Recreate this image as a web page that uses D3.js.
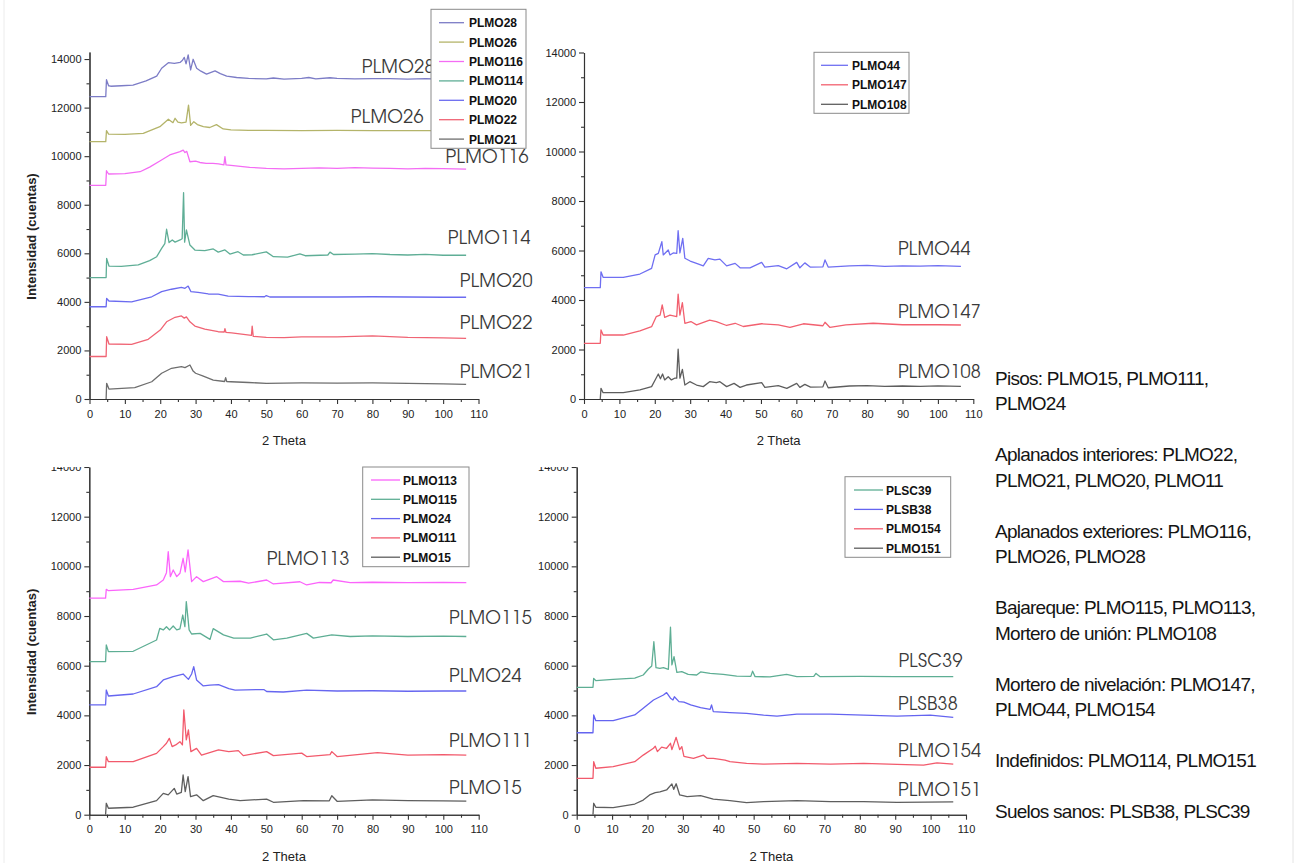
<!DOCTYPE html>
<html lang="es">
<head>
<meta charset="UTF-8">
<title>Difractogramas</title>
<script src="https://d3js.org/d3.v7.min.js"></script>
<style>
  body { margin: 0; background: #fff; }
  svg { display: block; }
  .tick text { font-family: "Liberation Sans", Arial, sans-serif; font-size: 11px; fill: #222; }
  .axis path, .axis line { stroke: #333; stroke-width: 1.1; }
  .ttl { font-family: "Liberation Sans", Arial, sans-serif; font-size: 13px; fill: #222; }
  .leg { font-family: "Liberation Sans", Arial, sans-serif; font-size: 12px; font-weight: bold; fill: #111; }
  .tag { font-family: "Century Gothic", "URW Gothic", "TeX Gyre Adventor", Lato, sans-serif; font-size: 18px; font-weight: 300; fill: #3a3a3a; letter-spacing: 0.3px; }
  .side { font-family: "Liberation Sans", Arial, sans-serif; font-size: 19px; fill: #141414; letter-spacing: -0.75px; }
</style>
</head>
<body>
<svg id="fig" width="1298" height="863"></svg>
<script>
// ticks
const xTicks = d3.range(0, 111, 10);
const yTicks = d3.range(0, 14001, 2000);

// [2 theta, counts] read per pattern
const plmo28 = [[0,12450],[4.6,12450],[4.8,13150],[5.4,12900],[6,12880],[9,12900],[12.3,12930],[16,13100],[19,13300],[20.4,13620],[22.3,13850],[24,13820],[25.6,13860],[26.3,13950],[26.8,14070],[27.3,13800],[27.9,14170],[28.6,13550],[29.3,13990],[30.3,13620],[31.5,13500],[33.1,13380],[35.5,13510],[37,13400],[38.8,13300],[41.6,13240],[45,13200],[50,13180],[52,13220],[55,13170],[60,13200],[62,13240],[64,13180],[68,13230],[70,13200],[75,13180],[80,13190],[85,13190],[90,13170],[95,13190],[100,13170],[106.5,13170]];
const plmo26 = [[0,10600],[4.6,10600],[4.8,11050],[5.4,10910],[10,10900],[15.2,10940],[19.9,11215],[22.3,11520],[23.6,11380],[24.2,11560],[25,11400],[26,11370],[27.3,11400],[28,12105],[28.6,11270],[29.5,11420],[30.5,11300],[32.2,11215],[34,11180],[35.9,11300],[37.8,11120],[40,11080],[45,11060],[50,11060],[60,11050],[70,11060],[80,11050],[90,11050],[100,11050],[106.5,11050]];
const plmo116 = [[0,8800],[4.6,8800],[4.8,9400],[5.4,9265],[10,9280],[14.3,9360],[17,9550],[19.9,9800],[22.7,10050],[25.6,10185],[26.5,10250],[27,10150],[27.5,10200],[28.4,9770],[30,9800],[31.2,9740],[33,9700],[34.9,9700],[36.5,9680],[38,9640],[38.3,9980],[38.6,9640],[40,9620],[45.3,9540],[50,9500],[55,9480],[60,9500],[65,9520],[70,9500],[75,9530],[80,9510],[85,9500],[90,9480],[95,9500],[100,9490],[106.5,9470]];
const plmo114 = [[0,5000],[4.7,5000],[4.85,5790],[5.5,5475],[9,5460],[13.8,5520],[17,5700],[19,5860],[20.4,6200],[21.3,6400],[21.8,6990],[22.5,6440],[23.4,6550],[24.2,6460],[25.6,6550],[26.2,6600],[26.6,8495],[26.9,6460],[27.4,6960],[28.4,6340],[29.8,6135],[32.6,6110],[35,6180],[36.4,6050],[38.3,6140],[39.7,5970],[42,6065],[43.5,5930],[46,5940],[50,6060],[52,5860],[56,5840],[59.5,5980],[61,5900],[67.4,5930],[68,6050],[69,5950],[75,5970],[80,5990],[85,5950],[90,5930],[95,5960],[100,5920],[106.5,5920]];
const plmo20 = [[0,3800],[4.7,3800],[4.85,4145],[5.5,4035],[11.9,4000],[17.6,4210],[20.4,4420],[23.2,4520],[26,4600],[27,4560],[27.9,4650],[28.7,4420],[30.7,4390],[33.6,4325],[36.4,4320],[39.2,4240],[45,4220],[49.5,4210],[50,4260],[51,4200],[60,4200],[70,4200],[80,4210],[90,4200],[100,4190],[106.5,4190]];
const plmo22 = [[0,1750],[4.7,1750],[4.85,2565],[5.5,2265],[11.9,2250],[16.6,2460],[20,2840],[21.8,3180],[24.2,3365],[26,3420],[26.8,3330],[27.4,3380],[28.4,3180],[29.8,3005],[32.6,2880],[36.4,2770],[38.1,2760],[38.3,2900],[38.6,2740],[40.2,2720],[45.8,2620],[46,3000],[46.3,2580],[50,2540],[55,2530],[60,2560],[70,2560],[80,2600],[90,2540],[100,2520],[106.5,2500]];
const plmo21 = [[4.7,0],[4.85,645],[5.5,410],[12.8,465],[17.6,710],[20.4,1060],[23.2,1265],[26,1330],[27,1290],[28.4,1400],[29.3,1150],[30,1060],[32,950],[35,780],[38.2,720],[38.5,880],[38.8,720],[40,710],[45,680],[50,645],[60,660],[70,650],[80,660],[90,640],[100,620],[106.5,600]];

const plmo44 = [[0,4500],[4.6,4500],[4.8,5140],[5.4,4915],[11.1,4915],[15.8,5050],[19.1,5280],[20.1,5820],[21,5885],[22,6355],[22.4,5820],[23.8,6020],[24.3,5820],[25.2,5900],[26.2,5880],[26.6,6800],[27.1,5900],[27.9,6490],[28.5,5685],[30,5575],[31.8,5480],[33.7,5380],[35.1,5685],[37,5620],[38.4,5650],[40.3,5380],[42.7,5480],[44.1,5300],[46.9,5300],[50.2,5520],[51.1,5330],[54.9,5390],[57.3,5260],[60.1,5520],[61,5300],[62.4,5500],[63.9,5330],[67.5,5340],[68.1,5620],[69,5330],[75,5380],[80,5400],[85,5360],[90,5380],[95,5370],[100,5390],[106.5,5360]];
const plmo147 = [[0,2250],[4.6,2250],[4.8,2790],[5.4,2585],[11.1,2585],[15.8,2750],[19.1,2920],[20.4,3325],[21.5,3390],[22.1,3800],[22.8,3300],[24.3,3390],[26.2,3330],[26.6,4240],[27.1,3390],[27.8,3890],[28.5,3060],[30.2,3130],[31.8,2995],[35.5,3190],[37.4,3130],[40.3,2970],[42.7,3060],[45,2930],[50.2,3040],[54.9,2995],[58.2,2890],[62,3040],[67.5,2960],[68.1,3100],[69.5,2890],[74,2995],[81.7,3060],[90,3000],[100,3000],[106.5,2990]];
const plmo108 = [[4.6,0],[4.8,430],[5.4,255],[11.1,255],[15.8,365],[19.1,500],[20.1,770],[21,1010],[21.6,820],[22.2,1010],[22.8,770],[23.8,900],[24.7,770],[25.6,840],[26.2,840],[26.6,2010],[27.1,840],[27.8,1200],[28.5,565],[29.9,700],[31.8,565],[33.7,500],[35.5,700],[37.4,660],[38.4,700],[40.3,500],[42.4,630],[44.1,470],[45.9,565],[50.2,660],[51.1,470],[54.9,540],[57.3,430],[60.1,630],[61,470],[62.4,590],[64,480],[67.5,490],[68.1,727],[69,454],[75,525],[80,540],[85,510],[90,525],[95,510],[100,530],[106.5,510]];

const plmo113 = [[0,8720],[4.6,8720],[4.8,9075],[5.4,9020],[12.4,9075],[19,9250],[20.9,9450],[21.8,9745],[22.3,10590],[22.9,9585],[23.7,9855],[24.7,9585],[25.6,9720],[26.5,10325],[27.1,9780],[27.9,10660],[28.9,9385],[30.3,9585],[32.2,9385],[36,9585],[37.9,9385],[42.6,9400],[45,9320],[50.1,9450],[52,9290],[59.5,9380],[61.4,9250],[65,9350],[68.3,9340],[68.9,9450],[73.7,9345],[80,9360],[90,9345],[100,9350],[106.5,9345]];
const plmo115 = [[0,6160],[4.6,6160],[4.8,6835],[5.4,6565],[12.4,6580],[19,7035],[19.9,7505],[20.9,7440],[21.8,7570],[22.7,7440],[23.7,7600],[24.7,7440],[25.6,7480],[26.4,8040],[27,7570],[27.4,8580],[28.2,7440],[28.9,7275],[31.3,7300],[34.1,7060],[35,7490],[37.9,7240],[40.8,7110],[45.5,7110],[50.1,7275],[52,7040],[55.8,7110],[61.4,7300],[63.3,7110],[68.5,7240],[73.7,7175],[80,7200],[90,7175],[100,7190],[106.5,7175]];
const plmo24 = [[0,4420],[4.6,4420],[4.8,5020],[5.4,4780],[12.4,4860],[19,5155],[20.9,5425],[23.7,5560],[26.5,5665],[28,5450],[28.9,5665],[29.5,5960],[30.3,5425],[32.2,5185],[34.1,5220],[36.5,5235],[39.4,5075],[41.2,5020],[49.3,5040],[50.1,4960],[54.8,4940],[61.4,5020],[70,4980],[80,4990],[90,4970],[100,4980],[106.5,4980]];
const plmo111 = [[0,1910],[4.6,1910],[4.8,2335],[5.4,2135],[12.4,2135],[19,2470],[20.9,2740],[21.8,2875],[22.6,3075],[23.4,2740],[24.4,2810],[25.6,2940],[26.3,2810],[26.7,4215],[27.4,3010],[28,3410],[28.7,2540],[30.3,2670],[31.7,2400],[36.5,2610],[39.4,2540],[42.1,2580],[43.5,2380],[50.1,2540],[52,2380],[60,2480],[61.4,2340],[68,2420],[68.5,2540],[70,2340],[81.4,2500],[90,2400],[100,2420],[106.5,2400]];
const plmo15 = [[4.6,0],[4.8,460],[5.4,260],[12.4,300],[19,565],[20.9,860],[22.3,800],[24,1060],[24.7,830],[26,900],[26.5,1600],[27.1,930],[27.9,1530],[28.6,725],[30.3,800],[32.2,565],[35,765],[39.4,630],[42.6,565],[50.1,630],[52,500],[60.5,565],[67.8,560],[68.5,765],[70,540],[80,600],[90,570],[100,560],[106.5,550]];

const plsc39 = [[0,5130],[4.6,5130],[4.8,5490],[5.4,5400],[10.3,5450],[16.4,5500],[18.8,5625],[20.2,5855],[21.2,5990],[21.8,6965],[22.4,5920],[23.5,5895],[24.5,5920],[25.9,5855],[26.5,7550],[26.9,6030],[27.5,6365],[28.3,5730],[29.7,5760],[31.5,5650],[33.9,5625],[35,5750],[37.7,5690],[41.4,5650],[45.2,5580],[49.2,5570],[49.7,5780],[50.4,5560],[54.6,5550],[59.3,5650],[62.2,5560],[67,5570],[67.6,5690],[68.7,5560],[80,5570],[90,5560],[100,5560],[106.4,5560]];
const plsb38 = [[0,3300],[4.6,3300],[4.8,4015],[5.4,3785],[10.3,3785],[16.4,4015],[18.8,4285],[21.7,4620],[24.5,4820],[25.4,4915],[26.5,4690],[27.2,4620],[27.6,4750],[28.9,4555],[30.3,4530],[32.2,4420],[35,4310],[37.7,4240],[38.1,4420],[38.6,4150],[43.3,4110],[48,4080],[52.8,4010],[56.6,3970],[62.2,4050],[71.7,4050],[81.1,4010],[90.5,3970],[99.9,4010],[106.4,3920]];
const plmo154 = [[0,1465],[4.6,1465],[4.8,2135],[5.4,1870],[10.3,1935],[16.4,2135],[18.8,2400],[21.7,2675],[22.2,2760],[22.8,2540],[24,2720],[25.4,2675],[26.5,2875],[26.9,2620],[28.1,3115],[29.1,2620],[29.7,2740],[30.3,2350],[33,2270],[35.8,2400],[36.8,2270],[38.6,2270],[41.9,2200],[43.3,2135],[48,2070],[52.8,2040],[62.2,2070],[71.7,2040],[81.1,2070],[90.5,2030],[98,2000],[101.8,2090],[106.4,2040]];
const plmo151 = [[4.6,0],[4.8,460],[5.4,300],[10.3,285],[16.4,430],[18.8,590],[20.6,795],[22.2,885],[23.5,920],[25.4,995],[26.9,1240],[27.4,1020],[28.1,1245],[29.1,795],[31.2,730],[35,770],[38.6,625],[43.3,570],[48,490],[52.8,530],[62.2,570],[71.7,530],[81.1,530],[90.5,500],[106.4,520]];

// sample groups, in legend order
const topLeftNames = ["PLMO28", "PLMO26", "PLMO116", "PLMO114", "PLMO20", "PLMO22", "PLMO21"];
const topRightNames = ["PLMO44", "PLMO147", "PLMO108"];
const bottomLeftNames = ["PLMO113", "PLMO115", "PLMO24", "PLMO111", "PLMO15"];
const bottomRightNames = ["PLSC39", "PLSB38", "PLMO154", "PLMO151"];

const notes = [
  "Pisos: PLMO15, PLMO111,", "PLMO24", "",
  "Aplanados interiores: PLMO22,", "PLMO21, PLMO20, PLMO11", "",
  "Aplanados exteriores: PLMO116,", "PLMO26, PLMO28", "",
  "Bajareque: PLMO115, PLMO113,", "Mortero de unión: PLMO108", "",
  "Mortero de nivelación: PLMO147,", "PLMO44, PLMO154", "",
  "Indefinidos: PLMO114, PLMO151", "",
  "Suelos sanos: PLSB38, PLSC39"
];

const patterns = {
  PLMO28: plmo28, PLMO26: plmo26, PLMO116: plmo116, PLMO114: plmo114,
  PLMO20: plmo20, PLMO22: plmo22, PLMO21: plmo21,
  PLMO44: plmo44, PLMO147: plmo147, PLMO108: plmo108,
  PLMO113: plmo113, PLMO115: plmo115, PLMO24: plmo24, PLMO111: plmo111, PLMO15: plmo15,
  PLSC39: plsc39, PLSB38: plsb38, PLMO154: plmo154, PLMO151: plmo151
};

// ---- drawing ----
const colors = {
  PLMO28: "#7c7cc6", PLMO26: "#b4b46a", PLMO116: "#f46cf4", PLMO114: "#5fae96",
  PLMO20: "#6b6bf0", PLMO22: "#f06474", PLMO21: "#6e6e6e",
  PLMO44: "#6f6ff2", PLMO147: "#f2606f", PLMO108: "#5e5e5e",
  PLMO113: "#fb64fb", PLMO115: "#5eae94", PLMO24: "#6666f0", PLMO111: "#f25a6c", PLMO15: "#5e5e5e",
  PLSC39: "#5eae94", PLSB38: "#6464f0", PLMO154: "#f25a6c", PLMO151: "#5e5e5e"
};

// where each curve name is written, in data units (2 theta, counts)
const tagAt = {
  PLMO28: [77, 13445], PLMO26: [73.9, 11385], PLMO116: [100.7, 9700], PLMO114: [101.3, 6400],
  PLMO20: [104.7, 4630], PLMO22: [104.7, 2900], PLMO21: [104.7, 885],
  PLMO44: [88.7, 5800], PLMO147: [88.7, 3290], PLMO108: [88.7, 840],
  PLMO113: [50.1, 10065], PLMO115: [101.6, 7660], PLMO24: [101.6, 5325], PLMO111: [101.6, 2745], PLMO15: [101.6, 815],
  PLSC39: [90.9, 5940], PLSB38: [90.8, 4225], PLMO154: [90.8, 2315], PLMO151: [90.8, 760]
};

const panels = [
  { names: topLeftNames, x0: 89.5, x1: 478.5, yb: 399, yt: 52, yTop: 14290, yTitle: true,
    legend: { x: 431, y: 9.3, w: 95, h: 139, row0: 22.7, step: 19.4, l0: 439, l1: 464, tx: 469 } },
  { names: topRightNames, x0: 584, x1: 973.3, yb: 399, yt: 52.5, yTop: 14000, yTitle: false,
    legend: { x: 814, y: 52.3, w: 95, h: 61, row0: 65.3, step: 19.5, l0: 821, l1: 848, tx: 852 } },
  { names: bottomLeftNames, x0: 89.3, x1: 478.7, yb: 814.7, yt: 467, yTop: 14000, yTitle: true, clipTop: 467,
    legend: { x: 362.7, y: 467, w: 106.3, h: 99.7, row0: 480, step: 19.3, l0: 371, l1: 400, tx: 403 } },
  { names: bottomRightNames, x0: 576.7, x1: 966, yb: 814.7, yt: 467, yTop: 14000, yTitle: false, clipTop: 467,
    legend: { x: 845, y: 476.7, w: 105.7, h: 80.6, row0: 490, step: 19.4, l0: 854, l1: 883, tx: 886 } }
];

const svg = d3.select("#fig");

// faint frame edges of the page
svg.append("line").attr("x1", 4).attr("x2", 4).attr("y1", 0).attr("y2", 863).attr("stroke", "#ececec");
svg.append("line").attr("x1", 1293).attr("x2", 1293).attr("y1", 0).attr("y2", 863).attr("stroke", "#e4e4e4");

panels.forEach((p, k) => {
  const x = d3.scaleLinear().domain([0, 110]).range([p.x0, p.x1]);
  const y = d3.scaleLinear().domain([0, p.yTop]).range([p.yb, p.yt]);

  let g = svg.append("g");
  if (p.clipTop) {
    svg.append("clipPath").attr("id", "cut" + k)
      .append("rect").attr("x", 0).attr("y", p.clipTop).attr("width", 1000).attr("height", 863 - p.clipTop);
    g.attr("clip-path", `url(#cut${k})`);
  }

  // minor ticks first, then labelled ones
  g.append("g").attr("class", "axis").attr("transform", `translate(0,${p.yb})`)
    .call(d3.axisBottom(x).tickValues(d3.range(5, 110, 10)).tickSize(3).tickFormat("").tickSizeOuter(0));
  g.append("g").attr("class", "axis").attr("transform", `translate(0,${p.yb})`)
    .call(d3.axisBottom(x).tickValues(xTicks).tickSize(5).tickPadding(6).tickSizeOuter(0));
  g.append("g").attr("class", "axis").attr("transform", `translate(${p.x0},0)`)
    .call(d3.axisLeft(y).tickValues(d3.range(1000, 14000, 2000)).tickSize(3).tickFormat("").tickSizeOuter(0));
  g.append("g").attr("class", "axis").attr("transform", `translate(${p.x0},0)`)
    .call(d3.axisLeft(y).tickValues(yTicks).tickFormat(d3.format("d")).tickSize(5).tickPadding(3).tickSizeOuter(0));

  const line = d3.line().x(d => x(d[0])).y(d => y(d[1]));
  p.names.slice().reverse().forEach(n => {
    g.append("path").datum(patterns[n])
      .attr("d", line).attr("fill", "none")
      .attr("stroke", colors[n]).attr("stroke-width", 1.3).attr("stroke-linejoin", "round");
  });

  // sample names beside each curve
  p.names.forEach(n => {
    svg.append("text").attr("class", "tag")
      .attr("x", x(tagAt[n][0])).attr("y", y(tagAt[n][1])).text(n);
  });

  svg.append("text").attr("class", "ttl").attr("text-anchor", "middle")
    .attr("x", (p.x0 + p.x1) / 2).attr("y", p.yb + 46).text("2 Theta");

  if (p.yTitle) {
    svg.append("text").attr("class", "ttl").attr("text-anchor", "middle")
      .attr("transform", `translate(36,${(p.yb + p.yt) / 2 + 11}) rotate(-90)`)
      .style("font-weight", "bold").text("Intensidad (cuentas)");
  }

  // legend box
  const L = p.legend;
  const lg = svg.append("g");
  lg.append("rect").attr("x", L.x).attr("y", L.y).attr("width", L.w).attr("height", L.h)
    .attr("fill", "#fff").attr("stroke", "#8a8a8a").attr("stroke-width", 1);
  p.names.forEach((n, i) => {
    const cy = L.row0 + i * L.step;
    lg.append("line").attr("x1", L.l0).attr("x2", L.l1).attr("y1", cy).attr("y2", cy)
      .attr("stroke", colors[n]).attr("stroke-width", 1.3);
    lg.append("text").attr("class", "leg").attr("x", L.tx).attr("y", cy + 4.5).text(n);
  });
});

// group notes on the right
svg.append("g").selectAll("text").data(notes).join("text")
  .attr("class", "side")
  .attr("x", 995)
  .attr("y", (d, i) => 384.5 + i * 25.5)
  .text(d => d);
</script>
</body>
</html>
